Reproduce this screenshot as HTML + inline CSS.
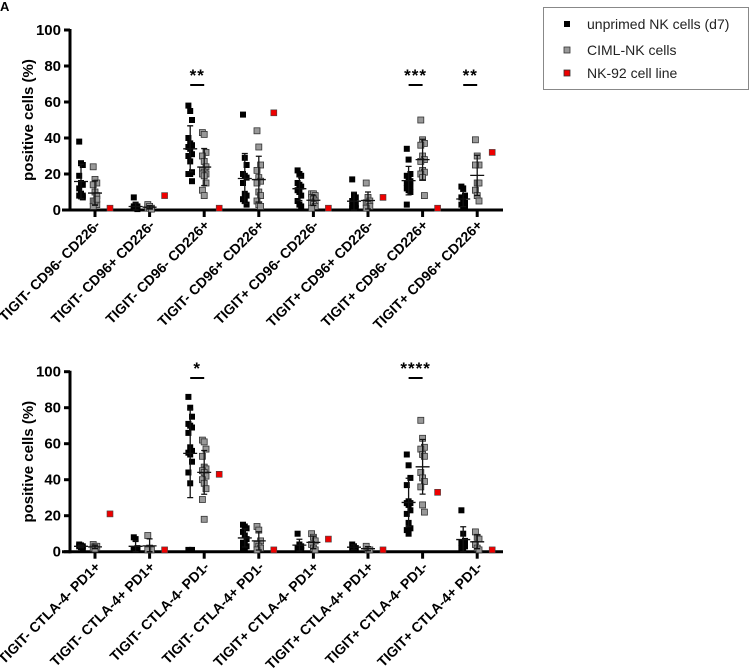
<!DOCTYPE html>
<html><head><meta charset="utf-8"><style>
html,body{margin:0;padding:0;background:#fff;}
svg{display:block;font-family:"Liberation Sans",Arial,sans-serif;}
</style></head><body>
<svg id="fig" width="749" height="669" viewBox="0 0 749 669">
<text x="0" y="11" font-size="13" font-weight="bold">A</text>
<g>
<rect x="543.5" y="7.5" width="205" height="82" fill="#fff" stroke="#888" stroke-width="1"/>
<rect x="564" y="21" width="6" height="6" fill="#000"/>
<text x="587" y="29" font-size="14" fill="#222">unprimed NK cells (d7)</text>
<rect x="564" y="47" width="6" height="6" fill="#999" stroke="#333" stroke-width="0.8"/>
<text x="587" y="55" font-size="14" fill="#222">CIML-NK cells</text>
<rect x="564" y="70" width="6" height="6" fill="#e00" stroke="#333" stroke-width="0.8"/>
<text x="587" y="78" font-size="14" fill="#222">NK-92 cell line</text>
</g>
</svg>
<script>
const topCategories=["TIGIT- CD96- CD226-","TIGIT- CD96+ CD226-","TIGIT- CD96- CD226+","TIGIT- CD96+ CD226+","TIGIT+ CD96- CD226-","TIGIT+ CD96+ CD226-","TIGIT+ CD96- CD226+","TIGIT+ CD96+ CD226+"];
const topUnprimed=[[38,26,25,19,15,14,12,9,8,8,9,7],[7,3,2,1,1,0.5,2,1,1,1],[58,55,50,40,37,36,35,34,31,30,27,21,20,20,16],[53,29,25,20,19,18,15,9,8,6,5,3],[22,20,19,15,14,13,11,10,8,5,3,2],[17,8,7,5,4,3,2,1,1,1],[34,28,20,19,17,16,15,14,13,12,11,10,3],[13,12,8,7,5,4,3,2,1]];
const topCiml=[[24,17,15,14,10,8,5,4,3,2,5,6],[2,2,1,1,1,0.5,3,2],[43,42,32,30,27,24,22,21,20,20,19,15,11,8],[44,35,25,22,18,16,15,10,8,5,3,2],[9,9,8,7,6,5,4,3,2,1],[15,7,5,4,3,2,1],[50,39,37,36,30,28,27,22,21,20,18,8],[39,30,25,25,15,15,11,8,5]];
const topNk92=[1,8,1,54,1,7,1,32];
const topSig=[[2,"**"],[6,"***"],[7,"**"]];
const botCategories=["TIGIT- CTLA-4- PD1+","TIGIT- CTLA-4+ PD1+","TIGIT- CTLA-4- PD1-","TIGIT- CTLA-4+ PD1-","TIGIT+ CTLA-4- PD1+","TIGIT+ CTLA-4+ PD1+","TIGIT+ CTLA-4- PD1-","TIGIT+ CTLA-4+ PD1-"];
const botUnprimed=[[4,3.5,3,3,2.5,2],[8,7,2,1,1,1,1],[86,80,75,71,70,69,66,58,56,55,54,50,44,38,1,1],[15,14,13,11,9,7,5,4,3,2,1],[10,4,3,2,2,1],[4,3,2,1],[54,48,41,37,28,27,27,26,23,21,16,13,12,10],[23,10,6,5,4,3,2,1]];
const botCiml=[[4,3,3,2,1.5],[9,2,1,1],[62,61,57,53,47,46,45,44,42,40,38,35,29,18],[14,12,6,4,3,2,1],[10,8,6,4,2,1],[3,1,1],[73,63,58,57,54,53,44,41,39,36,26,22],[11,8,7,4,2,1]];
const botNk92=[21,1,43,1,7,1,33,1];
const botSig=[[2,"*"],[6,"****"]];
const yTicks=[0,20,40,60,80,100];

const NS="http://www.w3.org/2000/svg";
const svg=document.getElementById('fig');
function mk(tag,attrs,parent){const e=document.createElementNS(NS,tag);for(const k in attrs)e.setAttribute(k,attrs[k]);(parent||svg).appendChild(e);return e;}
function meanSd(a){const m=a.reduce((s,v)=>s+v,0)/a.length;const sd=Math.sqrt(a.reduce((s,v)=>s+(v-m)*(v-m),0)/(a.length-1));return [m,sd];}

function panel(name,y0,cats,unp,ciml,nk,sig,sigY){
  const g=mk('g',{});
  
  
  const yS=v=>y0-v*1.8;
  const xS=i=>95+i*54.6;
  const ya=mk('line',{x1:70,y1:yS(100)-1,x2:70,y2:y0+1.5,stroke:'#000','stroke-width':3},g);
  
  const xa=mk('line',{x1:62,y1:y0,x2:503,y2:y0,stroke:'#000','stroke-width':3},g);
  
  yTicks.forEach(t=>{
    const tl=mk('line',{x1:64,y1:yS(t),x2:70,y2:yS(t),stroke:'#000','stroke-width':3},g);
    
    const tx=mk('text',{x:61,y:yS(t)+5,'font-size':15,'font-weight':'bold','text-anchor':'end'},g);
    tx.textContent=t;
    
  });
  const yt=mk('text',{x:0,y:0,'font-size':15,'font-weight':'bold','text-anchor':'middle',transform:`translate(33,${yS(50)}) rotate(-90)`},g);
  yt.textContent='positive cells (%)';
  
  cats.forEach((c,i)=>{
    const x=xS(i);
    const tk=mk('line',{x1:x,y1:y0,x2:x,y2:y0+7,stroke:'#000','stroke-width':3},g);
    
    const lb=mk('text',{x:0,y:0,'font-size':14,'font-weight':'bold','text-anchor':'end',transform:`translate(${x+6},${y0+16}) rotate(-45)`},g);
    lb.textContent=c;
    
    [[unp[i],-14,'#000','none'],[ciml[i],0,'#999','#333']].forEach(([vals,off,fill,stroke],si)=>{
      const cx=x+off;
      const [m,sd]=meanSd(vals);
      vals.forEach((v,j)=>{
        const jit=((j%3)-1)*1.8;
        const r=mk('rect',{x:cx+jit-3,y:yS(v)-3,width:6,height:6,fill:fill,stroke:stroke,'stroke-width':0.8},g);
        
      });
      const lo=Math.max(0,m-sd),hi=m+sd;
      const eb=mk('path',{d:`M${cx},${yS(lo)}V${yS(hi)}M${cx-3},${yS(hi)}H${cx+3}M${cx-3},${yS(lo)}H${cx+3}M${cx-7},${yS(m)}H${cx+7}`,stroke:'#111','stroke-width':1.3,fill:'none'},g);
      
    });
    const rp=mk('rect',{x:x+15-3,y:yS(nk[i])-3,width:6,height:6,fill:'#e00',stroke:'#444','stroke-width':0.6},g);
    
  });
  sig.forEach(([i,s])=>{
    const x=xS(i)-7;
    const ln=mk('line',{x1:x-7,y1:sigY,x2:x+7,y2:sigY,stroke:'#000','stroke-width':2},g);
    
    const st=mk('text',{x:x,y:sigY-4,'font-size':17,'font-weight':'bold','text-anchor':'middle','letter-spacing':'1'},g);
    st.textContent=s;
    
  });
}
panel('top-chart',210,topCategories,topUnprimed,topCiml,topNk92,topSig,85);
panel('bottom-chart',551.7,botCategories,botUnprimed,botCiml,botNk92,botSig,378);
</script>
</body></html>
